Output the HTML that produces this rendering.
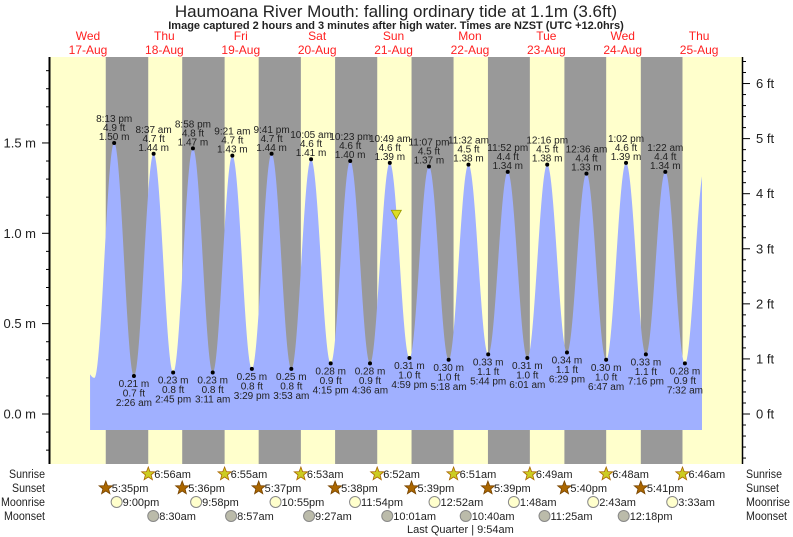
<!DOCTYPE html>
<html><head><meta charset="utf-8"><style>
body{margin:0;background:#fff;}
svg{display:block;font-family:"Liberation Sans",sans-serif;}
</style></head><body>
<svg id="chart" width="793" height="537" viewBox="0 0 793 537" xmlns="http://www.w3.org/2000/svg">
<text x="396" y="17" text-anchor="middle" font-size="17" fill="#222">Haumoana River Mouth: falling  ordinary tide at 1.1m (3.6ft)</text>
<text x="396" y="29" text-anchor="middle" font-size="11" font-weight="bold" fill="#222">Image captured 2 hours and 3 minutes after high water. Times are NZST (UTC +12.0hrs)</text>
<g id="bg"></g><g id="fill"></g><g id="marks"></g><g id="axes"></g><g id="rows"></g>
</svg>
<script>
const dayNames=["Wed","Thu","Fri","Sat","Sun","Mon","Tue","Wed","Thu"];
const dayDates=["17-Aug","18-Aug","19-Aug","20-Aug","21-Aug","22-Aug","23-Aug","24-Aug","25-Aug"];
const highTimes=[20.22,32.62,44.97,57.35,69.68,82.08,94.38,106.82,119.12,131.53,143.87,156.27,168.6,181.03,193.37];
const highVals=[1.50,1.44,1.47,1.43,1.44,1.41,1.40,1.39,1.37,1.38,1.34,1.38,1.33,1.39,1.34];
const highFt=["4.9","4.7","4.8","4.7","4.7","4.6","4.6","4.6","4.5","4.5","4.4","4.5","4.4","4.6","4.4"];
const highLbl=["8:13 pm","8:37 am","8:58 pm","9:21 am","9:41 pm","10:05 am","10:23 pm","10:49 am","11:07 pm","11:32 am","11:52 pm","12:16 pm","12:36 am","1:02 pm","1:22 am"];
const lowTimes=[26.43,38.75,51.18,63.48,75.88,88.25,100.6,112.98,125.3,137.73,150.02,162.48,174.78,187.27,199.53];
const lowVals=[0.21,0.23,0.23,0.25,0.25,0.28,0.28,0.31,0.30,0.33,0.31,0.34,0.30,0.33,0.28];
const lowFt=["0.7","0.8","0.8","0.8","0.8","0.9","0.9","1.0","1.0","1.1","1.0","1.1","1.0","1.1","0.9"];
const lowLbl=["2:26 am","2:45 pm","3:11 am","3:29 pm","3:53 am","4:15 pm","4:36 am","4:59 pm","5:18 am","5:44 pm","6:01 am","6:29 pm","6:47 am","7:16 pm","7:32 am"];
const sunsetTimes=[17.58,41.6,65.62,89.63,113.65,137.65,161.67,185.68];
const sunsetLbl=["5:35pm","5:36pm","5:37pm","5:38pm","5:39pm","5:39pm","5:40pm","5:41pm"];
const sunriseTimes=[30.93,54.92,78.88,102.87,126.85,150.82,174.8,198.77];
const sunriseLbl=["6:56am","6:55am","6:53am","6:52am","6:51am","6:49am","6:48am","6:46am"];
const moonriseTimes=[21,45.97,70.92,95.9,120.87,145.8,170.72,195.55];
const moonriseLbl=["9:00pm","9:58pm","10:55pm","11:54pm","12:52am","1:48am","2:43am","3:33am"];
const moonsetTimes=[32.5,56.95,81.45,106.02,130.67,155.42,180.3];
const moonsetLbl=["8:30am","8:57am","9:27am","10:01am","10:40am","11:25am","12:18pm"];
const nowTime=108.87, nowVal=1.1;
const leftTicks=[0,0.5,1.0,1.5];
const rightTicks=[0,1,2,3,4,5,6];

const X0=49.8, PXH=3.183, Y0=414, PXM=180.7, TOP=57, BOT=464, R=742;
const xs=t=>X0+t*PXH, ys=v=>Y0-v*PXM, yft=f=>Y0-f*0.3048*PXM;
const NS="http://www.w3.org/2000/svg";
function mk(tag,attrs,parent,txt){const e=document.createElementNS(NS,tag);for(const k in attrs)e.setAttribute(k,attrs[k]);if(txt!==undefined)e.textContent=txt;parent.appendChild(e);return e;}
const bg=document.getElementById('bg'),fill=document.getElementById('fill'),marks=document.getElementById('marks'),axes=document.getElementById('axes'),rows=document.getElementById('rows');

let r=mk('rect',{x:X0,y:TOP,width:R-X0,height:BOT-TOP,fill:'#ffffcc'},bg);


for(let i=0;i<sunsetTimes.length;i++){
  const x1=xs(sunsetTimes[i]),x2=xs(sunriseTimes[i]);
  const n=mk('rect',{x:x1,y:TOP,width:x2-x1,height:BOT-TOP,fill:'#999999'},bg);
  
  
}
for(let i=0;i<dayNames.length;i++){
  const x=xs(i*24+12);
  const t1=mk('text',{x:x,y:40,'text-anchor':'middle','font-size':12,fill:'#ff2020'},bg,dayNames[i]);
  
  
  const t2=mk('text',{x:x,y:54,'text-anchor':'middle','font-size':12,fill:'#ff2020'},bg,dayDates[i]);
  
  
}
let ext=[{t:14.0,v:0.20}];
for(let i=0;i<highTimes.length;i++){ext.push({t:highTimes[i],v:highVals[i]});ext.push({t:lowTimes[i],v:lowVals[i]});}
ext.push({t:205.8,v:1.37});
ext.sort((a,b)=>a.t-b.t);
const tStart=12.65,tEnd=(702-X0)/PXH;
function val(t){
  for(let i=0;i<ext.length-1;i++){const a=ext[i],b=ext[i+1];
    if(t>=a.t&&t<=b.t){const f=(t-a.t)/(b.t-a.t);return a.v+(b.v-a.v)*(1-Math.cos(Math.PI*f))/2;}}
  return 0.35;
}
function val0(t){ if(t<ext[0].t){return 0.20+(0.38-0.20)*(1-Math.cos(Math.PI*(ext[0].t-t)/6.2))/2;} return val(t);}
let d=`M${xs(tStart)},${430}`;
for(let t=tStart;t<=tEnd;t+=0.1)d+=` L${xs(t).toFixed(2)},${ys(val0(t)).toFixed(2)}`;
d+=` L${xs(tEnd)},${ys(val0(tEnd))} L${xs(tEnd)},430 Z`;
const p=mk('path',{d:d,fill:'#a0b0ff'},fill);



for(let i=0;i<highTimes.length;i++){
  const x=xs(highTimes[i]),y=ys(highVals[i]);
  const c=mk('circle',{cx:x,cy:y,r:2,fill:'#000'},marks);
  
  
  const g=mk('text',{x:x,'text-anchor':'middle','font-size':10,fill:'#222'},marks);
  
  
  [highLbl[i],highFt[i]+" ft",highVals[i].toFixed(2)+" m"].forEach((s,k)=>mk('tspan',{x:x,y:y-21+k*9},g,s));
}
for(let i=0;i<lowTimes.length;i++){
  const x=xs(lowTimes[i]),y=ys(lowVals[i]);
  const c=mk('circle',{cx:x,cy:y,r:2,fill:'#000'},marks);
  
  
  const g=mk('text',{x:x,'text-anchor':'middle','font-size':10,fill:'#222'},marks);
  
  
  [lowVals[i].toFixed(2)+" m",lowFt[i]+" ft",lowLbl[i]].forEach((s,k)=>mk('tspan',{x:x,y:y+11+k*9.5},g,s));
}
const nx=xs(nowTime),ny=ys(nowVal);
const tri=mk('path',{d:`M${nx-5},${ny-5} L${nx+5},${ny-5} L${nx},${ny+4} Z`,fill:'#dddd22',stroke:'#999900','stroke-width':0.8},marks);



let la=mk('line',{x1:49.5,y1:TOP,x2:49.5,y2:BOT,stroke:'#000','stroke-width':2},axes);


let ra=mk('line',{x1:742.5,y1:TOP,x2:742.5,y2:BOT,stroke:'#000','stroke-width':1.5},axes);


for(let k=-3;k<=19;k++){const y=ys(k/10);if(y<TOP||y>BOT)continue;
  const major=k%5===0;
  mk('line',{x1:major?42:46,y1:y,x2:49,y2:y,stroke:'#000','stroke-width':1},axes);}
leftTicks.forEach(v=>{const t=mk('text',{x:36,y:ys(v)+4.5,'text-anchor':'end','font-size':13,fill:'#222'},axes,v.toFixed(1)+" m");
  
  });
for(let k=-5;k<=33;k++){const y=yft(k/5);if(y<TOP||y>BOT)continue;
  const major=k%5===0;
  mk('line',{x1:743,y1:y,x2:major?750:746,y2:y,stroke:'#000','stroke-width':1},axes);}
rightTicks.forEach(v=>{const t=mk('text',{x:756,y:yft(v)+4.5,'font-size':13,fill:'#222'},axes,v+" ft");
  
  });

const rowY=[474,488,502,516];
const rowNames=["Sunrise","Sunset","Moonrise","Moonset"];
const rowW=[36,33,44,41];
rowNames.forEach((n,i)=>{
  const a=mk('text',{x:45,y:rowY[i]+4,'text-anchor':'end','font-size':11.5,fill:'#222',textLength:rowW[i],lengthAdjust:'spacingAndGlyphs'},rows,n);
  
  
  const b=mk('text',{x:746,y:rowY[i]+4,'font-size':11.5,fill:'#222',textLength:rowW[i],lengthAdjust:'spacingAndGlyphs'},rows,n);
  
  
});
function star(cx,cy,fillc,stroke){let s='';for(let k=0;k<10;k++){const rr=k%2?3:7,a=-Math.PI/2+k*Math.PI/5;s+=(k?'L':'M')+(cx+rr*Math.cos(a)).toFixed(1)+','+(cy+rr*Math.sin(a)).toFixed(1);}
  return mk('path',{d:s+'Z',fill:fillc,stroke:stroke,'stroke-width':0.8},rows);}
function evRow(times,lbls,row,kind){
  times.forEach((t,i)=>{const x=xs(t),y=rowY[row];
    let ic;
    if(kind==='rise')ic=star(x,y,'#cccc22','#aa6600');
    else if(kind==='set')ic=star(x,y,'#aa6600','#774400');
    else ic=mk('circle',{cx:x,cy:y,r:5.5,fill:kind==='mrise'?'#ffffcc':'#bbbbaa',stroke:'#888','stroke-width':1},rows);
    
    
    const tx=mk('text',{x:x+6,y:y+4,'font-size':11,fill:'#222'},rows,lbls[i]);
    
    
  });
}
evRow(sunriseTimes,sunriseLbl,0,'rise');
evRow(sunsetTimes,sunsetLbl,1,'set');
evRow(moonriseTimes,moonriseLbl,2,'mrise');
evRow(moonsetTimes,moonsetLbl,3,'mset');
const lq=mk('text',{x:407,y:533,'font-size':11,fill:'#222'},rows,"Last Quarter | 9:54am");


</script>
</body></html>
